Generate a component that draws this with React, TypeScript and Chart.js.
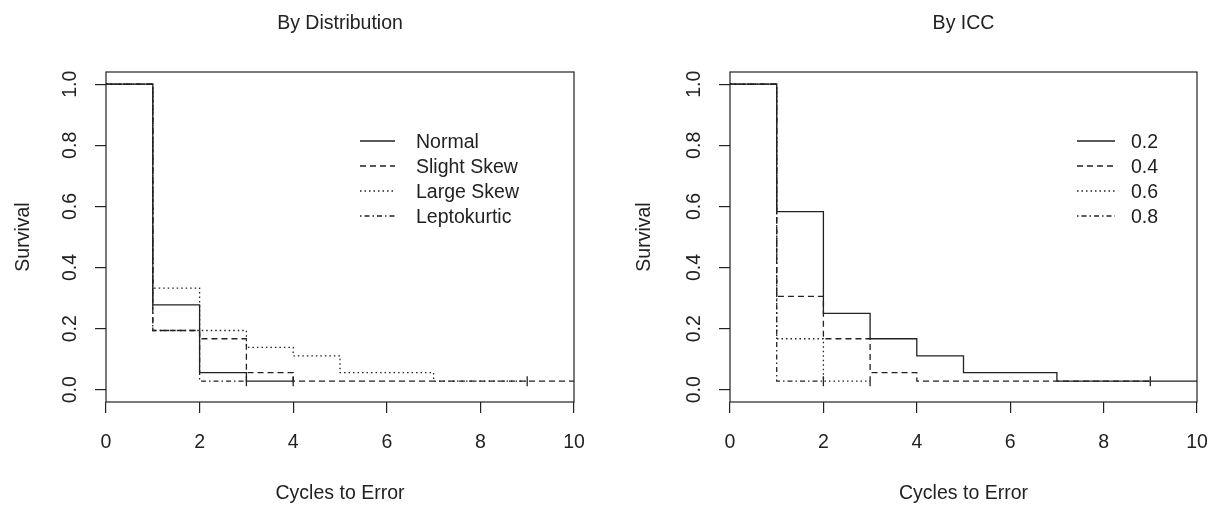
import React, { useEffect, useRef } from "react";
import { Chart, registerables } from "chart.js";

Chart.register(...registerables);

// ---------- data ----------
const X_TICKS = [0, 2, 4, 6, 8, 10];
const Y_TICKS = [0, 0.2, 0.4, 0.6, 0.8, 1.0];
const Y_TICK_LABELS = ["0.0", "0.2", "0.4", "0.6", "0.8", "1.0"];

const DIST_LABELS = ["Normal", "Slight Skew", "Large Skew", "Leptokurtic"];
const NORMAL_TIME = [0, 1, 2, 3, 4];
const NORMAL_SURV = [1, 0.278, 0.056, 0.028, 0.028];
const SLIGHT_TIME = [0, 1, 2, 3, 4, 10];
const SLIGHT_SURV = [1, 0.194, 0.167, 0.056, 0.028, 0.028];
const LARGE_TIME = [0, 1, 2, 3, 4, 5, 7, 9];
const LARGE_SURV = [1, 0.333, 0.194, 0.139, 0.111, 0.056, 0.028, 0.028];
const LEPTO_TIME = [0, 1, 2, 3];
const LEPTO_SURV = [1, 0.194, 0.028, 0.028];
const DIST_CENSOR_TIME = [3, 4, 9];
const DIST_CENSOR_SURV = [0.028, 0.028, 0.028];

const ICC_LABELS = ["0.2", "0.4", "0.6", "0.8"];
const ICC02_TIME = [0, 1, 2, 3, 4, 5, 7, 10];
const ICC02_SURV = [1, 0.583, 0.25, 0.167, 0.111, 0.056, 0.028, 0.028];
const ICC04_TIME = [0, 1, 2, 3, 4, 9];
const ICC04_SURV = [1, 0.306, 0.167, 0.056, 0.028, 0.028];
const ICC06_TIME = [0, 1, 2, 3];
const ICC06_SURV = [1, 0.167, 0.028, 0.028];
const ICC08_TIME = [0, 1, 2];
const ICC08_SURV = [1, 0.028, 0.028];
const ICC_CENSOR_TIME = [2, 3, 9];
const ICC_CENSOR_SURV = [0.028, 0.028, 0.028];

// ---------- styles ----------
const INK = "#222222";
const FAMILY = "'Liberation Sans', Arial, sans-serif";
const FSIZE = 19.5;
const LW = 1.3;
const DASHES: number[][] = [[], [6, 4], [1.5, 3], [1.5, 3, 5, 3]];

type Panel = {
  title: string;
  labels: string[];
  times: number[][];
  survs: number[][];
  censorT: number[];
  censorS: number[];
  yWidth: number;
  rightPad: number;
  yTitlePad: number;
  legLine0: number; // offsets from chartArea.right
  legLine1: number;
  legText: number;
};

const LEFT: Panel = {
  title: "By Distribution",
  labels: DIST_LABELS,
  times: [NORMAL_TIME, SLIGHT_TIME, LARGE_TIME, LEPTO_TIME],
  survs: [NORMAL_SURV, SLIGHT_SURV, LARGE_SURV, LEPTO_SURV],
  censorT: DIST_CENSOR_TIME,
  censorS: DIST_CENSOR_SURV,
  yWidth: 106,
  rightPad: 31,
  yTitlePad: 11.8,
  legLine0: -214,
  legLine1: -179,
  legText: -158,
};

const RIGHT: Panel = {
  title: "By ICC",
  labels: ICC_LABELS,
  times: [ICC02_TIME, ICC04_TIME, ICC06_TIME, ICC08_TIME],
  survs: [ICC02_SURV, ICC04_SURV, ICC06_SURV, ICC08_SURV],
  censorT: ICC_CENSOR_TIME,
  censorS: ICC_CENSOR_SURV,
  yWidth: 107,
  rightPad: 31,
  yTitlePad: 10.3,
  legLine0: -120,
  legLine1: -82,
  legText: -66,
};

const W = 605;
const H = 506;

function SurvivalPanel({ p, left }: { p: Panel; left: number }) {
  const ref = useRef<HTMLCanvasElement | null>(null);

  useEffect(() => {
    if (!ref.current) return;
    const font = { family: FAMILY, size: FSIZE };

    const lineSets: any[] = p.labels.map((lab, i) => ({
      type: "line",
      label: lab,
      data: p.times[i].map((t, k) => ({ x: t, y: p.survs[i][k] })),
      borderColor: INK,
      borderWidth: LW,
      borderDash: DASHES[i],
      stepped: "before",
      pointRadius: 0,
      fill: false,
      tension: 0,
    }));
    const censorSet: any = {
      type: "scatter",
      label: "censored",
      data: p.censorT.map((t, k) => ({ x: t, y: p.censorS[k] })),
      pointStyle: "line",
      rotation: 90,
      pointRadius: 5,
      borderColor: INK,
      backgroundColor: INK,
      pointBorderWidth: LW,
      showLine: false,
    };

    const decor = {
      id: "decor",
      afterDraw(chart: any) {
        const { ctx, chartArea: a, scales } = chart;
        ctx.save();
        // box
        ctx.strokeStyle = INK;
        ctx.lineWidth = 1.2;
        ctx.setLineDash([]);
        ctx.strokeRect(a.left, a.top, a.right - a.left, a.bottom - a.top);
        // rotated y tick labels
        ctx.fillStyle = INK;
        ctx.font = `${FSIZE}px ${FAMILY}`;
        ctx.textAlign = "center";
        ctx.textBaseline = "middle";
        const ys = scales.y;
        Y_TICKS.forEach((v, i) => {
          const py = ys.getPixelForValue(v);
          ctx.save();
          ctx.translate(a.left - 35.5, py);
          ctx.rotate(-Math.PI / 2);
          ctx.fillText(Y_TICK_LABELS[i], 0, 0);
          ctx.restore();
        });
        // title
        ctx.fillText(p.title, (a.left + a.right) / 2, 24);
        // legend
        p.labels.forEach((lab, i) => {
          const ry = a.top + 69 + i * 25;
          ctx.beginPath();
          ctx.lineWidth = LW;
          ctx.setLineDash(DASHES[i]);
          ctx.moveTo(a.right + p.legLine0, ry);
          ctx.lineTo(a.right + p.legLine1, ry);
          ctx.stroke();
          ctx.setLineDash([]);
          ctx.textAlign = "left";
          ctx.fillText(lab, a.right + p.legText, ry + 1.5);
        });
        ctx.restore();
      },
    };

    const chart = new Chart(ref.current, {
      type: "line",
      data: { datasets: [...lineSets, censorSet] },
      options: {
        animation: false,
        responsive: false,
        events: [],
        layout: { padding: { top: 72, right: p.rightPad, bottom: 0, left: 0 } },
        plugins: {
          legend: { display: false },
          tooltip: { enabled: false },
          title: { display: false },
        },
        scales: {
          x: {
            type: "linear",
            min: 0,
            max: 10,
            afterBuildTicks: (s: any) => {
              s.ticks = X_TICKS.map((v) => ({ value: v }));
            },
            afterFit: (s: any) => {
              s.height = 104;
            },
            ticks: {
              color: INK,
              font,
              padding: 18.3,
              maxRotation: 0,
              minRotation: 0,
              autoSkip: false,
              callback: (v: any) => String(v),
            },
            grid: {
              drawOnChartArea: false,
              drawTicks: true,
              tickLength: 11,
              color: INK,
              lineWidth: 1.2,
            },
            border: { display: false },
            title: {
              display: true,
              text: "Cycles to Error",
              color: INK,
              font,
              padding: { top: 0, bottom: 0.3 },
            },
          },
          y: {
            type: "linear",
            min: -0.04,
            max: 1.04,
            afterBuildTicks: (s: any) => {
              s.ticks = Y_TICKS.map((v) => ({ value: v }));
            },
            afterFit: (s: any) => {
              s.width = p.yWidth;
            },
            ticks: { display: false },
            grid: {
              drawOnChartArea: false,
              drawTicks: true,
              tickLength: 11,
              color: INK,
              lineWidth: 1.2,
            },
            border: { display: false },
            title: {
              display: true,
              text: "Survival",
              color: INK,
              font,
              padding: { top: p.yTitlePad, bottom: 0 },
            },
          },
        },
      } as any,
      plugins: [decor],
    });
    return () => chart.destroy();
  }, [p]);

  return (
    <canvas
      ref={ref}
      width={W}
      height={H}
      style={{ position: "absolute", left, top: 0, width: W, height: H }}
    />
  );
}

export default function App() {
  return (
    <div
      style={{
        position: "fixed",
        left: 0,
        top: 0,
        width: 1210,
        height: 506,
        background: "#ffffff",
        overflow: "hidden",
      }}
    >
      <SurvivalPanel p={LEFT} left={0} />
      <SurvivalPanel p={RIGHT} left={623} />
    </div>
  );
}
